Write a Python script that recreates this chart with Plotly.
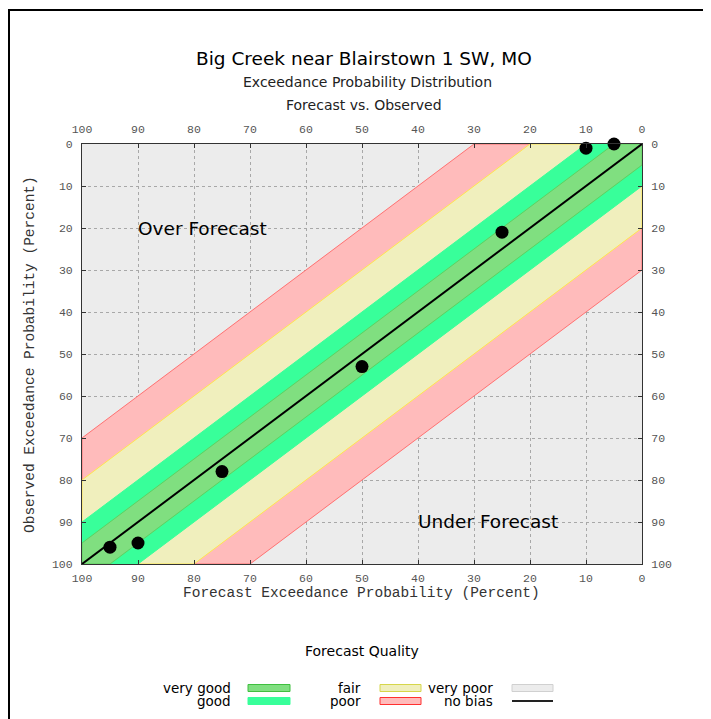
import plotly.graph_objects as go

# ---------------- data ----------------
forecast_pct = [95, 90, 75, 50, 25, 10, 5]
observed_pct = [96, 95, 78, 53, 21, 1, 0]
tick_vals = [0, 10, 20, 30, 40, 50, 60, 70, 80, 90, 100]
tick_text = [str(v) for v in tick_vals]
band_names = ["poor", "fair", "good", "very good"]
band_offsets = [30, 20, 10, 5]
band_fill = ["#ffbbbb", "#f0efbd", "#38ff9a", "#80df80"]
band_edge = ["#ff7070", "#ffe64d", "#38ff9a", "#5fcf5f"]
diag = [0, 100]

# ---------------- geometry helpers ----------------
W, H = 711, 719
OFF = 8  # page body margin
L, R, T, B = 82, 642, 144, 564


def px(x):
    return (x - L) / (R - L)


def py(y):
    return (B - y) / (B - T)


fig = go.Figure()

for name, d, fc, ec in zip(band_names, band_offsets, band_fill, band_edge):
    xs = [0, d, 100, 100, 100 - d, 0, 0]
    ys = [0, 0, 100 - d, 100, 100, d, 0]
    fig.add_trace(go.Scatter(x=xs, y=ys, mode="lines", fill="toself",
                             fillcolor=fc, line=dict(color=ec, width=1),
                             hoverinfo="skip", showlegend=False))

fig.add_trace(go.Scatter(x=diag, y=diag, mode="lines",
                         line=dict(color="black", width=2),
                         hoverinfo="skip", showlegend=False))

fig.add_trace(go.Scatter(x=forecast_pct, y=observed_pct, mode="markers",
                         marker=dict(color="black", size=13),
                         cliponaxis=False, showlegend=False))

fig.add_trace(go.Scatter(x=[None], y=[None], xaxis="x2", yaxis="y2",
                         showlegend=False, hoverinfo="skip"))

mono = "Liberation Mono, Courier New, monospace"
tickfont = dict(family=mono, size=11.5, color="#555555")
common = dict(range=[100, 0], tickmode="array", tickvals=tick_vals, ticktext=tick_text,
              ticks="inside", ticklen=4, tickcolor="#333333", tickfont=tickfont,
              zeroline=False, showline=True, linecolor="#333333", linewidth=1)

fig.update_layout(
    width=W, height=H,
    margin=dict(l=L - OFF, r=W - (R - OFF), t=T - OFF, b=H - (B - OFF), pad=0),
    paper_bgcolor="white", plot_bgcolor="#ececec",
    showlegend=False,
    xaxis=dict(**common, side="bottom", showgrid=True, gridcolor="#a8a8a8",
               griddash="dot", gridwidth=1, ticklabelstandoff=3),
    yaxis=dict(**common, side="left", showgrid=True, gridcolor="#a8a8a8",
               griddash="dot", gridwidth=1, ticklabelstandoff=6),
    xaxis2=dict(**common, side="top", overlaying="x", showgrid=False, ticklabelstandoff=5),
    yaxis2=dict(**common, side="right", overlaying="y", showgrid=False, ticklabelstandoff=6),
)

ann = []
ann.append(dict(x=px(364), y=py(58), text="Big Creek near Blairstown 1 SW, MO",
                font=dict(family="DejaVu Sans", size=18.5, color="black")))
ann.append(dict(x=px(367), y=py(82), text="Exceedance Probability Distribution",
                font=dict(family="DejaVu Sans", size=14, color="#222222")))
ann.append(dict(x=px(364), y=py(105), text="Forecast vs. Observed",
                font=dict(family="DejaVu Sans", size=14, color="#222222")))
ann.append(dict(x=px(361), y=py(593), text="Forecast Exceedance Probability (Percent)",
                font=dict(family=mono, size=14.5, color="#333333")))
ann.append(dict(x=px(30), y=py(355), text="Observed Exceedance Probability (Percent)",
                textangle=-90, font=dict(family=mono, size=14.5, color="#333333")))
ann.append(dict(x=px(202), y=py(228), text="Over Forecast",
                font=dict(family="DejaVu Sans", size=18.5, color="black")))
ann.append(dict(x=px(488), y=py(521), text="Under Forecast",
                font=dict(family="DejaVu Sans", size=18.5, color="black")))
ann.append(dict(x=px(362), y=py(651), text="Forecast Quality",
                font=dict(family="DejaVu Sans", size=14, color="black")))

leg_font = dict(family="DejaVu Sans", size=13.5, color="black")
legend_items = [
    ("very good", 233, 688, "#80df80", "#3fbf3f", 248, 290, "box"),
    ("good", 233, 701, "#38ff9a", "#38ff9a", 248, 290, "box"),
    ("fair", 363, 688, "#f0efbd", "#d6d64a", 380, 421, "box"),
    ("poor", 363, 701, "#ffbbbb", "#ff3030", 380, 421, "box"),
    ("very poor", 495, 688, "#ececec", "#d0d0d0", 512, 553, "box"),
    ("no bias", 495, 701, None, "#222222", 512, 553, "line"),
]
shapes = []
for lab, xr, yc, fc, ec, x0, x1, kind in legend_items:
    ann.append(dict(x=px(xr), y=py(yc), text=lab, xanchor="right", font=leg_font))
    if kind == "box":
        shapes.append(dict(type="rect", xref="paper", yref="paper",
                           x0=px(x0), x1=px(x1), y0=py(yc - 3.5), y1=py(yc + 3.5),
                           fillcolor=fc, line=dict(color=ec, width=1)))
    else:
        shapes.append(dict(type="line", xref="paper", yref="paper",
                           x0=px(x0), x1=px(x1), y0=py(yc), y1=py(yc),
                           line=dict(color=ec, width=2)))

for a in ann:
    a.setdefault("xref", "paper")
    a.setdefault("yref", "paper")
    a.setdefault("showarrow", False)
    a.setdefault("xanchor", "center")
    a.setdefault("yanchor", "middle")

shapes.append(dict(type="rect", xref="paper", yref="paper",
                   x0=px(9), x1=px(730), y0=py(10), y1=py(740),
                   line=dict(color="black", width=2), fillcolor="rgba(0,0,0,0)"))

fig.update_layout(annotations=ann, shapes=shapes)
fig.write_html("out.html")
